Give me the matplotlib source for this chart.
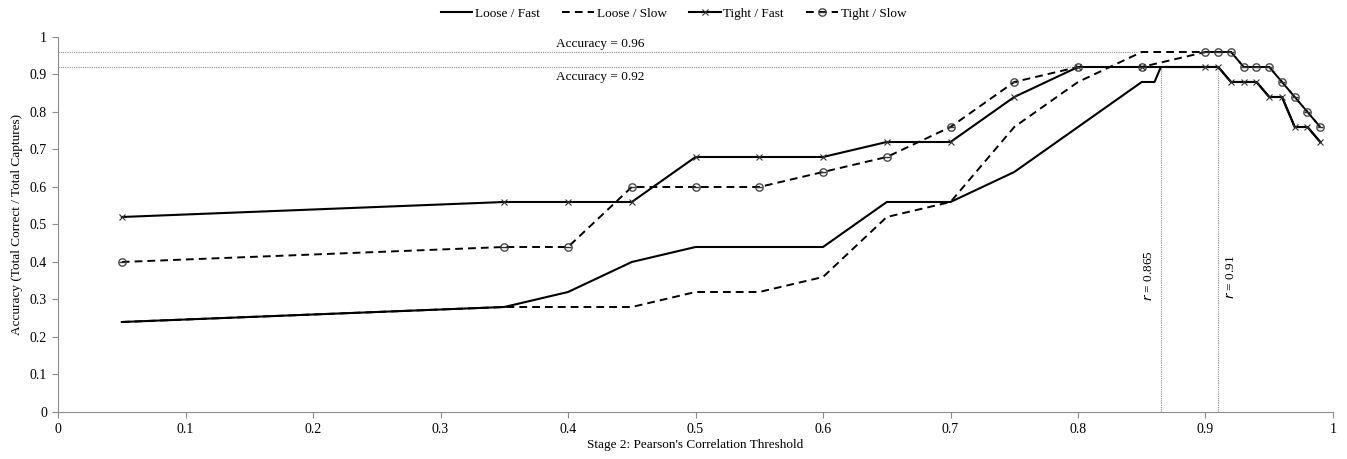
import matplotlib.pyplot as plt

# Datos
thresholds = [0.05, 0.35, 0.40, 0.45, 0.50, 0.55, 0.60, 0.65, 0.70, 0.75,
              0.80, 0.85, 0.90, 0.91, 0.92, 0.93, 0.94, 0.95, 0.96, 0.97, 0.98, 0.99]
tight_fast = [0.52, 0.56, 0.56, 0.56, 0.68, 0.68, 0.68, 0.72, 0.72, 0.84,
              0.92, 0.92, 0.92, 0.92, 0.88, 0.88, 0.88, 0.84, 0.84, 0.76, 0.76, 0.72]
tight_slow = [0.40, 0.44, 0.44, 0.60, 0.60, 0.60, 0.64, 0.68, 0.76, 0.88,
              0.92, 0.92, 0.96, 0.96, 0.96, 0.92, 0.92, 0.92, 0.88, 0.84, 0.80, 0.76]

loose_fast_x = [0.05, 0.35, 0.40, 0.45, 0.50, 0.55, 0.60, 0.65, 0.70, 0.75,
                0.80, 0.85, 0.86, 0.865, 0.90, 0.91, 0.92, 0.93, 0.94, 0.95, 0.96, 0.97, 0.98, 0.99]
loose_fast = [0.24, 0.28, 0.32, 0.40, 0.44, 0.44, 0.44, 0.56, 0.56, 0.64,
              0.76, 0.88, 0.88, 0.92, 0.92, 0.92, 0.88, 0.88, 0.88, 0.84, 0.84, 0.76, 0.76, 0.72]
loose_slow = [0.24, 0.28, 0.28, 0.28, 0.32, 0.32, 0.36, 0.52, 0.56, 0.76,
              0.88, 0.96, 0.96, 0.96, 0.96, 0.92, 0.92, 0.92, 0.88, 0.84, 0.80, 0.76]

acc_lines = [0.96, 0.92]
acc_ends = [0.847, 0.80]
r_lines = [0.865, 0.91]

plt.rcParams['font.family'] = ['Liberation Serif', 'DejaVu Serif']
plt.rcParams['font.size'] = 9.5

fig = plt.figure(figsize=(13.47, 4.59), dpi=100)
ax = fig.add_axes([0.0431, 0.1024, 0.9465, 0.817])

grey = '#8c8c8c'
dash = (0, (4, 2.6))
dots = (0, (1, 1))

# Líneas de referencia
for y, xe in zip(acc_lines, acc_ends):
    ax.plot([0, xe], [y, y], color=grey, lw=0.8, ls=dots, zorder=1)
for xr in r_lines:
    ax.plot([xr, xr], [0, 0.92], color=grey, lw=0.8, ls=dots, zorder=1)

ax.text(0.425, 0.966, 'Accuracy = 0.96', ha='center', va='bottom', fontsize=9.5)
ax.text(0.425, 0.91, 'Accuracy = 0.92', ha='center', va='top', fontsize=9.5)
ax.text(0.856, 0.365, '$r$ = 0.865', rotation=90, ha='center', va='center', fontsize=9.5)
ax.text(0.92, 0.36, '$r$ = 0.91', rotation=90, ha='center', va='center', fontsize=9.5)

# Series
ax.plot(loose_fast_x, loose_fast, color='black', lw=1.5, label='Loose / Fast', zorder=3)
ax.plot(thresholds, loose_slow, color='black', lw=1.4, ls=dash, label='Loose / Slow', zorder=3)
ax.plot(thresholds, tight_fast, color='black', lw=1.5, marker='x', ms=5, mew=0.8,
        mec='#333333', label='Tight / Fast', zorder=4)
ax.plot(thresholds, tight_slow, color='black', lw=1.4, ls=dash, marker='$\\ominus$', ms=6,
        mew=0.2, mec='#333333', mfc='#333333', label='Tight / Slow', zorder=4)

ax.set_xlim(0, 1)
ax.set_ylim(0, 1)
ax.set_xticks([i / 10 for i in range(11)])
ax.set_yticks([i / 10 for i in range(11)])
ax.set_xticklabels(['0', '0.1', '0.2', '0.3', '0.4', '0.5', '0.6', '0.7', '0.8', '0.9', '1'])
ax.set_yticklabels(['0', '0.1', '0.2', '0.3', '0.4', '0.5', '0.6', '0.7', '0.8', '0.9', '1'])
for s in ['top', 'right']:
    ax.spines[s].set_visible(False)
for s in ['left', 'bottom']:
    ax.spines[s].set_color(grey)
ax.tick_params(direction='out', length=4, color=grey, labelsize=10, pad=4)

ax.set_xlabel("Stage 2: Pearson's Correlation Threshold", fontsize=9.5, labelpad=2)
ax.set_ylabel('Accuracy (Total Correct / Total Captures)', fontsize=9.5, labelpad=5)

fig.legend(loc='upper center', bbox_to_anchor=(0.5, 1.01), ncol=4, frameon=False,
           fontsize=9.5, handlelength=2.4, columnspacing=1.7, handletextpad=0.2)

plt.savefig('out.png', dpi=100)
